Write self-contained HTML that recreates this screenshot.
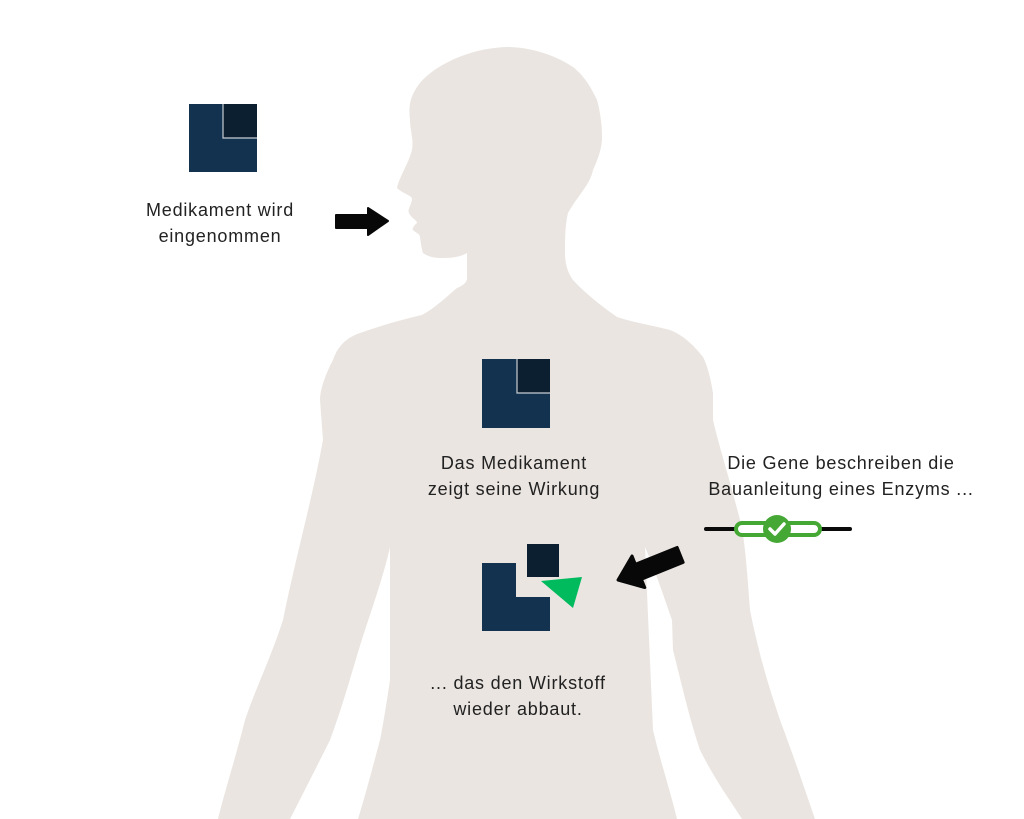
<!DOCTYPE html>
<html><head><meta charset="utf-8"><style>
html,body{margin:0;padding:0;background:#fff;}
body{width:1024px;height:819px;position:relative;overflow:hidden;font-family:"Liberation Sans",sans-serif;}
.t{position:absolute;font-size:18px;color:#222;text-align:center;line-height:26px;white-space:nowrap;letter-spacing:0.8px}
</style></head><body>
<svg width="1024" height="819" style="position:absolute;left:0;top:0">
<path fill="#eae5e1" d="M507,47 C470,48 435,65 420,83 C408,98 409,110 410,120 C410,130 414,140 412,150 C408,165 400,175 397,188 C402,193 410,195 412,198 C412,205 407,209 409,213 C411,218 417,220 417,223 C413,226 412,230 413,230 C416,233 420,234 420,237 C421,245 422,250 423,253 C430,258 438,258 443,258 C455,258 462,256 467,253 L467,278 C467,283 462,286 457,288 C445,298 435,308 422,315 C400,320 380,326 360,333 C345,338 337,348 333,360 C325,375 320,390 320,400 L323,440 C312,500 295,560 283,620 C270,660 255,690 245,720 C235,760 225,790 218,819 L290,819 C305,790 320,760 330,740 C345,700 355,660 365,630 C375,600 385,570 390,547 L390,680 C387,700 384,720 380,740 C372,770 364,800 358,819 L677,819 C670,790 660,760 653,730 L645,547 C655,570 665,600 672,620 L673,650 C683,690 690,720 700,750 C715,780 730,800 742,819 L815,819 C805,790 795,760 780,720 C770,690 760,660 750,610 C747,570 745,540 740,520 C730,480 720,450 713,420 L713,393 C710,375 707,365 703,357 C692,343 682,335 670,330 C650,325 632,322 617,317 C600,305 585,293 573,280 C567,272 565,262 565,253 C565,240 565,225 568,213 C578,195 590,185 593,170 C600,155 602,145 602,137 C602,125 600,110 597,100 C590,85 583,75 573,67 C555,55 530,47 507,47 Z"/>
<rect x="189" y="104" width="68" height="68" fill="#13324f"/>
<rect x="223" y="104" width="34" height="34" fill="#0b1f31"/>
<path d="M223,104 L223,138 L257,138" fill="none" stroke="#c8cdd2" stroke-width="1.2"/>
<rect x="482" y="359" width="68" height="69" fill="#13324f"/>
<rect x="517" y="359" width="33" height="34" fill="#0b1f31"/>
<path d="M517,359 L517,393 L550,393" fill="none" stroke="#c8cdd2" stroke-width="1.2"/>
<path d="M482,563 L516,563 L516,597 L550,597 L550,631 L482,631 Z" fill="#13324f"/>
<rect x="527" y="544" width="32" height="33" fill="#0b1f31"/>
<polygon points="541,581 582,577 573,608" fill="#00bb5e"/>
<path d="M336,215 L368,215 L368,208 L388,221 L368,235 L368,228 L336,228 Z" fill="#080808" stroke="#080808" stroke-width="2" stroke-linejoin="round"/>
<g transform="translate(618,580) rotate(-22)">
<path d="M0,0 L22,-17 L22,-8 L67,-8 L67,8 L22,8 L22,17 Z" fill="#080808" stroke="#080808" stroke-width="3" stroke-linejoin="round"/>
</g>
<line x1="706" y1="529" x2="850" y2="529" stroke="#0a0a0a" stroke-width="4" stroke-linecap="round"/>
<rect x="736" y="523" width="84" height="12" rx="6" fill="#fff" stroke="#45a834" stroke-width="4"/>
<circle cx="777" cy="529" r="14" fill="#45a834"/>
<path d="M770,529 L775,534 L784,524" fill="none" stroke="#fff" stroke-width="3.5" stroke-linecap="round" stroke-linejoin="round"/>
</svg>
<div class="t" style="left:100px;width:240px;top:197px">Medikament wird<br>eingenommen</div>
<div class="t" style="left:394px;width:240px;top:450px">Das Medikament<br>zeigt seine Wirkung</div>
<div class="t" style="left:690px;width:302px;top:450px">Die Gene beschreiben die<br>Bauanleitung eines Enzyms ...</div>
<div class="t" style="left:398px;width:240px;top:670px">... das den Wirkstoff<br>wieder abbaut.</div>
</body></html>
